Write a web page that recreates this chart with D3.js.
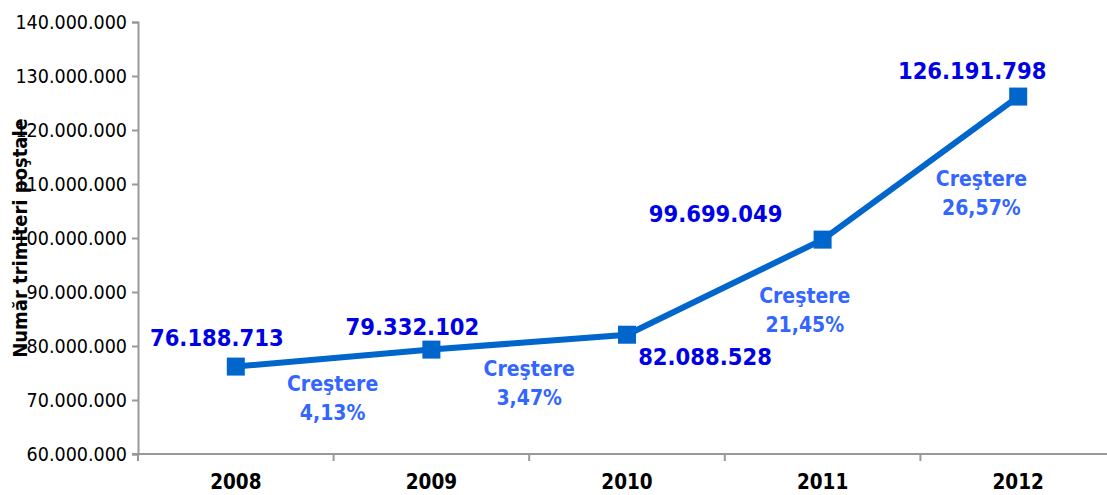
<!DOCTYPE html>
<html>
<head>
<meta charset="utf-8">
<script src="https://cdn.jsdelivr.net/npm/d3@7"></script>
<style>
  body { margin: 0; background: #fff; }
  text { font-family: "DejaVu Sans Condensed", "DejaVu Sans", sans-serif; }
</style>
</head>
<body>
<div id="chart"></div>
<script>
// data
var years = ["2008", "2009", "2010", "2011", "2012"];
var values = [76188713, 79332102, 82088528, 99699049, 126191798];
var growth = ["4,13%", "3,47%", "21,45%", "26,57%"];
var yTicks = [60e6, 70e6, 80e6, 90e6, 100e6, 110e6, 120e6, 130e6, 140e6];

// label placement (px, relative to point / segment midpoint)
var valueOffsets = [[-19, -29], [-19, -23], [78, 22], [-107, -26], [-46, -26]];
var growthOffsets = [[-1, 25], [0, 26], [80, 8], [61, 10]];

var width = 1107, height = 495;
var marginLeft = 138, plotTop = 22, plotBottom = 454;

var svg = d3.select("#chart").append("svg")
    .attr("width", width)
    .attr("height", height);

var x = d3.scaleBand()
    .domain(years)
    .range([marginLeft, marginLeft + 5 * 195.6]);

var y = d3.scaleLinear()
    .domain([60e6, 140e6])
    .range([plotBottom, plotTop]);

var fmt = function(v) {
    return d3.format(",")(v).replace(/,/g, ".");
};

// y axis
var yAxis = svg.append("g")
    .attr("transform", "translate(" + marginLeft + ",0)")
    .call(d3.axisLeft(y).tickValues(yTicks).tickSize(6).tickPadding(5).tickFormat(fmt));
yAxis.selectAll("text").attr("font-size", 19.5).attr("fill", "#000")
    .style("font-family", "'DejaVu Sans Condensed', 'DejaVu Sans', sans-serif");

// x axis
var xAxis = svg.append("g")
    .attr("transform", "translate(0," + plotBottom + ")")
    .call(d3.axisBottom(x).tickSize(0).tickPadding(20));
xAxis.selectAll("text").attr("font-size", 20.5).attr("font-weight", "bold").attr("fill", "#000")
    .style("font-family", "'DejaVu Sans Condensed', 'DejaVu Sans', sans-serif");
xAxis.selectAll(".xtick")
    .data(years)
    .enter().append("line")
    .attr("x1", function(d) { return x(d); })
    .attr("x2", function(d) { return x(d); })
    .attr("y1", 0).attr("y2", 7);
xAxis.select(".domain").attr("d", "M" + (marginLeft - 6) + ",0H" + width);

svg.selectAll(".domain, .tick line, g line").attr("stroke", "#999").attr("stroke-width", 2);

// y title
svg.append("text")
    .attr("transform", "translate(20,238) rotate(-90)")
    .attr("text-anchor", "middle")
    .attr("dy", "0.35em")
    .attr("font-size", 20)
    .attr("font-weight", "bold")
    .text("Număr trimiteri poştale");

var cx = function(i) { return x(years[i]) + x.bandwidth() / 2; };
var cy = function(i) { return y(values[i]); };

// line
var line = d3.line()
    .x(function(d, i) { return cx(i); })
    .y(function(d, i) { return cy(i); });

svg.append("path")
    .datum(values)
    .attr("fill", "none")
    .attr("stroke", "#0066CC")
    .attr("stroke-width", 6)
    .attr("d", line);

svg.selectAll(".marker")
    .data(values)
    .enter().append("rect")
    .attr("x", function(d, i) { return cx(i) - 9; })
    .attr("y", function(d, i) { return cy(i) - 9; })
    .attr("width", 18).attr("height", 18)
    .attr("fill", "#0066CC");

// value labels
svg.selectAll(".vlabel")
    .data(values)
    .enter().append("text")
    .attr("x", function(d, i) { return cx(i) + valueOffsets[i][0]; })
    .attr("y", function(d, i) { return cy(i) + valueOffsets[i][1]; })
    .attr("dy", "0.36em")
    .attr("text-anchor", "middle")
    .attr("font-size", 23.5)
    .attr("font-weight", "bold")
    .attr("fill", "#0000E6")
    .text(fmt);

// growth labels
var g = svg.selectAll(".glabel")
    .data(growth)
    .enter().append("text")
    .attr("text-anchor", "middle")
    .attr("font-size", 21)
    .attr("font-weight", "bold")
    .attr("fill", "#3366FF");

g.append("tspan")
    .attr("x", function(d, i) { return (cx(i) + cx(i + 1)) / 2 + growthOffsets[i][0]; })
    .attr("y", function(d, i) { return (cy(i) + cy(i + 1)) / 2 + growthOffsets[i][1]; })
    .attr("dy", "0.36em")
    .text("Creştere");
g.append("tspan")
    .attr("x", function(d, i) { return (cx(i) + cx(i + 1)) / 2 + growthOffsets[i][0]; })
    .attr("y", function(d, i) { return (cy(i) + cy(i + 1)) / 2 + growthOffsets[i][1] + 29; })
    .attr("dy", "0.36em")
    .text(function(d) { return d; });
</script>
</body>
</html>
